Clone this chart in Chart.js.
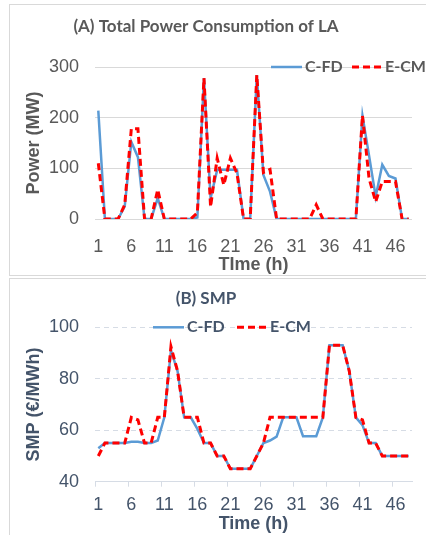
<!DOCTYPE html>
<html>
<head>
<meta charset="utf-8">
<script src="https://cdn.jsdelivr.net/npm/chart.js@4.4.1/dist/chart.umd.min.js"></script>
<style>
  html, body { margin: 0; padding: 0; background: #fff; }
  body { width: 426px; height: 535px; position: relative; overflow: hidden; }
  .box { position: absolute; border: 1px solid #d9d9d9; box-sizing: border-box; }
  canvas { position: absolute; left: 0; }
</style>
</head>
<body>
<div class="box" style="left:9px; top:4px; width:430px; height:272px;"></div>
<div class="box" style="left:9px; top:278px; width:430px; height:270px;"></div>
<canvas id="powerChart" width="426" height="276" style="top:0;"></canvas>
<canvas id="smpChart" width="426" height="259" style="top:276px;"></canvas>
<script>
//================================ Data =================================

const hours = ['1', '2', '3', '4', '5', '6', '7', '8', '9', '10', '11', '12',
    '13', '14', '15', '16', '17', '18', '19', '20', '21', '22', '23', '24',
    '25', '26', '27', '28', '29', '30', '31', '32', '33', '34', '35', '36',
    '37', '38', '39', '40', '41', '42', '43', '44', '45', '46', '47', '48'];

const seriesNames = ['C-FD', 'E-CM'];

// (A) total power consumption of LA, MW
const powerCFD = [214, 0, 0, 0, 25, 152, 122, 0, 0, 41, 0, 0,
    0, 0, 0, 3, 278, 41, 97, 97, 97, 97, 0, 0,
    284, 87, 54, 0, 0, 0, 0, 0, 0, 0, 0, 0,
    0, 0, 0, 0, 204, 125, 44, 107, 85, 80, 0, 0];
const powerECM = [110, 0, 0, 0, 28, 178, 178, 0, 0, 58, 0, 0,
    0, 0, 0, 12, 278, 24, 120, 67, 120, 90, 0, 0,
    284, 92, 98, 0, 0, 0, 0, 0, 0, 28, 0, 0,
    0, 0, 0, 0, 204, 80, 34, 74, 74, 74, 0, 0];
const powerTicks = [0, 100, 200, 300];

// (B) SMP, EUR/MWh
const smpCFD = [53, 55, 55, 55, 55, 55.5, 55.5, 55, 55, 56, 65, 91,
    83, 65, 65, 60.5, 55, 55, 50, 50, 45, 45, 45, 45,
    50, 55, 56, 57.5, 65, 65, 65, 57.7, 57.7, 57.7, 65, 93,
    93, 93, 83, 65, 62, 55, 55, 50, 50, 50, 50, 50];
const smpECM = [50, 55, 55, 55, 55, 65, 64, 55, 55, 65, 65, 92.5,
    83, 65, 65, 65, 55, 55, 50, 50, 45, 45, 45, 45,
    50, 55, 65, 65, 65, 65, 65, 65, 65, 65, 65, 93,
    93, 93, 83, 65, 64, 55, 55, 50, 50, 50, 50, 50];
const smpTicks = [40, 60, 80, 100];

//================================ Charts =================================

Chart.defaults.font.family = "'Liberation Sans', Arial, sans-serif";
Chart.defaults.animation = false;

const blue = '#5b9bd5';
const red = '#ff0000';

// legend drawn inside the plot, level with the top gridline
const insetLegend = {
    id: 'insetLegend',
    afterDraw(chart, args, opts) {
        const ctx = chart.ctx;
        ctx.save();
        chart.data.datasets.forEach((ds, i) => {
            const it = opts.items[i];
            ctx.beginPath();
            ctx.setLineDash(ds.borderDash || []);
            ctx.lineWidth = ds.borderWidth;
            ctx.strokeStyle = ds.borderColor;
            ctx.moveTo(it.x0, opts.y);
            ctx.lineTo(it.x1, opts.y);
            ctx.stroke();
            ctx.setLineDash([]);
            ctx.fillStyle = opts.color;
            ctx.font = opts.font;
            ctx.textBaseline = 'middle';
            ctx.textAlign = 'left';
            ctx.fillText(ds.label, it.tx, opts.y);
        });
        ctx.restore();
    }
};

function makeDatasets(a, b) {
    return [{
        label: seriesNames[0],
        data: a,
        borderColor: blue,
        borderWidth: 2.5,
        pointRadius: 0,
        tension: 0,
        order: 2
    }, {
        label: seriesNames[1],
        data: b,
        borderColor: red,
        borderWidth: 3,
        borderDash: [7, 4],
        pointRadius: 0,
        tension: 0,
        order: 1
    }];
}

function hourTick(val, i) {
    return i % 5 === 0 ? hours[i] : '';
}

const powerChart = new Chart(document.getElementById('powerChart'), {
    type: 'line',
    data: { labels: hours, datasets: makeDatasets(powerCFD, powerECM) },
    plugins: [insetLegend],
    options: {
        responsive: false,
        layout: { padding: { left: 0, right: 14, top: 0, bottom: 0 } },
        plugins: {
            legend: { display: false },
            tooltip: { enabled: false },
            title: {
                display: true,
                text: '(A) Total Power Consumption of LA',
                color: '#595959',
                font: { family: 'Lato', size: 17, weight: 'bold' },
                padding: { top: 16.8, bottom: 29.8 }
            },
            insetLegend: {
                y: 67,
                color: '#595959',
                font: "bold 16px Lato",
                items: [{ x0: 271, x1: 302, tx: 305 }, { x0: 352, x1: 382, tx: 385 }]
            }
        },
        scales: {
            x: {
                offset: true,
                grid: { display: false },
                border: { display: false },
                ticks: {
                    autoSkip: false, maxRotation: 0, padding: 9,
                    color: '#595959', font: { size: 18 },
                    callback: hourTick
                },
                title: {
                    display: true, text: 'TIme (h)', color: '#595959',
                    font: { size: 18, weight: 'bold' }, padding: { top: 0, bottom: 0 }
                },
                afterFit: s => { s.height = 57; }
            },
            y: {
                min: 0,
                max: 300,
                afterBuildTicks: s => { s.ticks = powerTicks.map(v => ({ value: v })); },
                grid: { color: '#d9d9d9', lineWidth: 1, drawTicks: false },
                border: { display: false },
                ticks: { padding: 16, color: '#595959', font: { size: 18 } },
                title: {
                    display: true, text: 'Power (MW)', color: '#595959',
                    font: { size: 18, weight: 'bold' }, padding: { top: 23, bottom: 0 }
                },
                afterFit: s => { s.width = 95; }
            }
        }
    }
});

const slate = '#44546a';

const smpChart = new Chart(document.getElementById('smpChart'), {
    type: 'line',
    data: { labels: hours, datasets: makeDatasets(smpCFD, smpECM) },
    plugins: [insetLegend],
    options: {
        responsive: false,
        layout: { padding: { left: 0, right: 14, top: 0, bottom: 0 } },
        plugins: {
            legend: { display: false },
            tooltip: { enabled: false },
            title: {
                display: true,
                text: '(B) SMP',
                color: slate,
                font: { family: 'Lato', size: 17, weight: 'bold' },
                padding: { top: 12.8, bottom: 18.1 }
            },
            insetLegend: {
                y: 51.3,
                color: slate,
                font: "bold 16px Lato",
                items: [{ x0: 153, x1: 184, tx: 187 }, { x0: 237, x1: 267, tx: 270 }]
            }
        },
        scales: {
            x: {
                offset: true,
                grid: {
                    offset: true,
                    drawOnChartArea: false,
                    drawTicks: true,
                    tickLength: 5,
                    color: ctx => (ctx.index % 5 === 0 ? '#d6dce5' : 'rgba(0,0,0,0)')
                },
                border: { display: true, color: '#d6dce5', width: 1 },
                ticks: {
                    autoSkip: false, maxRotation: 0, padding: 7.5,
                    color: slate, font: { size: 18 },
                    callback: hourTick
                },
                title: {
                    display: true, text: 'Time (h)', color: slate,
                    font: { size: 18, weight: 'bold' }, padding: { top: 0, bottom: 0 }
                },
                afterFit: s => { s.height = 53.3; }
            },
            y: {
                min: 40,
                max: 100,
                afterBuildTicks: s => { s.ticks = smpTicks.map(v => ({ value: v })); },
                grid: {
                    color: ctx => (ctx.tick && ctx.tick.value === 40 ? 'rgba(0,0,0,0)' : '#d6dce5'),
                    lineWidth: 1,
                    drawTicks: false
                },
                border: { display: false, dash: [5, 4] },
                ticks: { padding: 16, color: slate, font: { size: 18 } },
                title: {
                    display: true, text: 'SMP (€/MWh)', color: slate,
                    font: { size: 18, weight: 'bold' }, padding: { top: 23, bottom: 0 }
                },
                afterFit: s => { s.width = 95; }
            }
        }
    }
});
</script>
</body>
</html>
